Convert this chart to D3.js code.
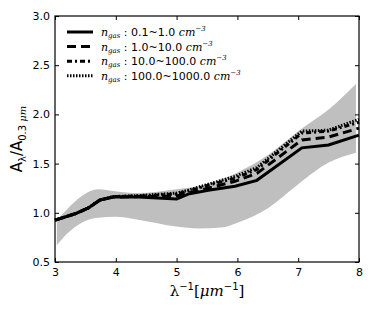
<!DOCTYPE html>
<html>
<head>
<meta charset="utf-8">
<script src="https://d3js.org/d3.v7.min.js"></script>
<style>
body { margin: 0; background: #fff; }
svg text { font-family: "DejaVu Sans", sans-serif; }
.math { font-family: "DejaVu Serif", serif; font-style: italic; }
</style>
</head>
<body>
<svg id="chart" width="374" height="312"></svg>
<script>
// wavelength grid for each curve (1/micron)
const lamLine = [3.0, 3.33, 3.55, 3.74, 3.96, 4.37, 5.0, 5.19, 5.52, 5.96, 6.32, 7.06, 7.5, 8.0];
const solidVals = [0.925, 0.99, 1.05, 1.13, 1.16, 1.16, 1.14, 1.19, 1.23, 1.27, 1.33, 1.66, 1.69, 1.79];
const dashedVals = [0.925, 0.99, 1.05, 1.13, 1.16, 1.165, 1.17, 1.2, 1.25, 1.32, 1.40, 1.74, 1.77, 1.86];
const dashDotVals = [0.925, 0.99, 1.05, 1.13, 1.165, 1.17, 1.19, 1.22, 1.28, 1.35, 1.44, 1.81, 1.83, 1.92];
const dottedVals = [0.925, 0.99, 1.05, 1.13, 1.165, 1.175, 1.2, 1.23, 1.29, 1.37, 1.46, 1.83, 1.84, 1.95];

const lamBand = [3.03, 3.22, 3.44, 3.71, 3.99, 4.37, 5.0, 5.36, 5.74, 6.0, 6.51, 7.0, 7.5, 7.95];
const bandUpper = [0.925, 1.05, 1.17, 1.24, 1.22, 1.20, 1.24, 1.27, 1.34, 1.41, 1.59, 1.83, 2.05, 2.31];
const bandLower = [0.67, 0.80, 0.90, 0.95, 0.96, 0.93, 0.86, 0.84, 0.85, 0.90, 1.05, 1.29, 1.51, 1.61];

const xTicks = [3, 4, 5, 6, 7, 8];
const yTicks = [0.5, 1.0, 1.5, 2.0, 2.5, 3.0];
const legendRanges = ["0.1~1.0", "1.0~10.0", "10.0~100.0", "100.0~1000.0"];
const dashes = [null, "9,5", "5,3,2,3", "1.5,1.5"];

const margin = { left: 55, right: 15, top: 16, bottom: 50 };
const width = 374, height = 312;
const svg = d3.select('#chart');

const x = d3.scaleLinear().domain([3, 8]).range([margin.left, width - margin.right]);
const y = d3.scaleLinear().domain([0.5, 3.0]).range([height - margin.bottom, margin.top]);

// grey band
const bandData = lamBand.map((l, i) => ({ l: l, lo: bandLower[i], hi: bandUpper[i] }));
svg.append('path')
    .datum(bandData)
    .attr('d', d3.area().x(d => x(d.l)).y0(d => y(d.lo)).y1(d => y(d.hi)).curve(d3.curveMonotoneX))
    .attr('fill', '#bfbfbf');

// the four curves
const series = [solidVals, dashedVals, dashDotVals, dottedVals];
const line = d3.line().x(d => x(d.l)).y(d => y(d.v));
series.forEach((vals, i) => {
    svg.append('path')
        .datum(lamLine.map((l, j) => ({ l: l, v: vals[j] })))
        .attr('d', line)
        .attr('fill', 'none')
        .attr('stroke', 'black')
        .attr('stroke-width', 3)
        .attr('stroke-dasharray', dashes[i]);
});

// axes: inward ticks on all sides
const plotW = width - margin.left - margin.right;
const plotH = height - margin.top - margin.bottom;

svg.append('g')
    .attr('transform', `translate(0,${height - margin.bottom})`)
    .call(d3.axisBottom(x).tickValues(xTicks).tickSizeInner(-4).tickSizeOuter(0).tickPadding(6).tickFormat(d3.format('d')));
svg.append('g')
    .attr('transform', `translate(0,${margin.top})`)
    .call(d3.axisTop(x).tickValues(xTicks).tickSizeInner(-4).tickSizeOuter(0).tickFormat(''));
svg.append('g')
    .attr('transform', `translate(${margin.left},0)`)
    .call(d3.axisLeft(y).tickValues(yTicks).tickSizeInner(-4).tickSizeOuter(0).tickPadding(5).tickFormat(d3.format('.1f')));
svg.append('g')
    .attr('transform', `translate(${width - margin.right},0)`)
    .call(d3.axisRight(y).tickValues(yTicks).tickSizeInner(-4).tickSizeOuter(0).tickFormat(''));

svg.selectAll('.domain').remove();
svg.selectAll('.tick text').attr('font-size', 11).attr('fill', '#000')
    .attr('font-family', '"DejaVu Sans", sans-serif');
svg.selectAll('.tick line').attr('stroke', '#000');

svg.append('rect')
    .attr('x', margin.left).attr('y', margin.top)
    .attr('width', plotW).attr('height', plotH)
    .attr('fill', 'none').attr('stroke', '#000').attr('stroke-width', 1.2);

// legend
const leg = svg.append('g');
legendRanges.forEach((r, i) => {
    const ly = 32 + i * 14.6;
    leg.append('line')
        .attr('x1', 67).attr('x2', 93).attr('y1', ly).attr('y2', ly)
        .attr('stroke', 'black').attr('stroke-width', 3)
        .attr('stroke-dasharray', dashes[i]);
    const t = leg.append('text').attr('x', 101).attr('y', ly + 4).attr('font-size', 11);
    t.append('tspan').attr('class', 'math').text('n');
    t.append('tspan').attr('class', 'math').attr('font-size', 7).attr('dy', 2).text('gas');
    t.append('tspan').attr('dy', -2).text(' : ' + r + '  ');
    t.append('tspan').attr('class', 'math').text('cm');
    t.append('tspan').attr('class', 'math').attr('font-size', 7).attr('dy', -5).text('\u22123');
});

// x label
const xl = svg.append('text')
    .attr('x', x(5.5)).attr('y', 296)
    .attr('text-anchor', 'middle')
    .attr('font-size', 15);
xl.append('tspan').attr('class', 'math').style('font-style', 'normal').text('\u03bb');
xl.append('tspan').attr('font-size', 10).attr('dy', -6).text('\u22121');
xl.append('tspan').attr('dy', 6).attr('class', 'math').style('font-style', 'normal').text('[');
xl.append('tspan').attr('class', 'math').text('\u03bcm');
xl.append('tspan').attr('font-size', 10).attr('dy', -6).text('\u22121');
xl.append('tspan').attr('dy', 6).attr('class', 'math').style('font-style', 'normal').text(']');

// y label
const yl = svg.append('text')
    .attr('transform', `translate(22,${y(1.75)}) rotate(-90)`)
    .attr('text-anchor', 'middle')
    .attr('font-size', 15);
yl.append('tspan').text('A');
yl.append('tspan').attr('font-size', 10).attr('dy', 4).text('\u03bb');
yl.append('tspan').attr('dy', -4).text('/A');
yl.append('tspan').attr('font-size', 10).attr('dy', 4).text('0.3 ');
yl.append('tspan').attr('class', 'math').attr('font-size', 10).text('\u03bcm');
</script>
</body>
</html>
